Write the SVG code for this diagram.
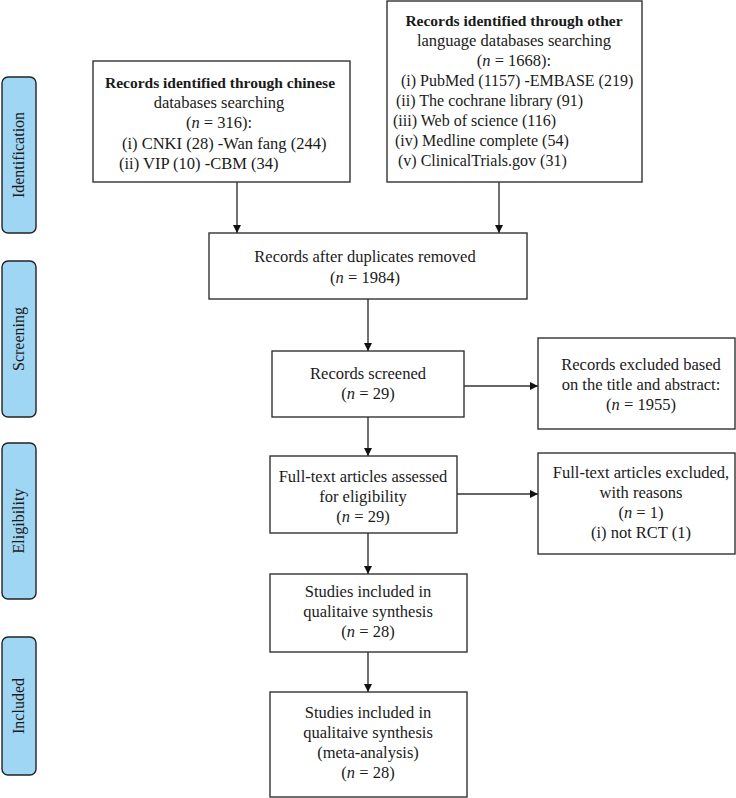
<svg xmlns="http://www.w3.org/2000/svg" width="736" height="798" viewBox="0 0 736 798">
<style>
text{font-family:"Liberation Serif","Times New Roman",serif;font-size:16.5px;fill:#1a1a1a}
.c{text-anchor:middle}
.b{font-weight:bold;font-size:15.5px}
.l{font-size:16px}
.i{font-style:italic}
.s{font-size:16px}
.box{fill:#fff;stroke:#333;stroke-width:1.4}
.side{fill:#9fd6f4;stroke:#222;stroke-width:1.4}
.ln{stroke:#333;stroke-width:1.4;fill:none}
</style>
<defs>
<marker id="ah" viewBox="0 0 10 10" refX="10" refY="5" markerWidth="8" markerHeight="8" markerUnits="userSpaceOnUse" orient="auto">
<path d="M0,0 L10,5 L0,10 z" fill="#111"/>
</marker>
</defs>
<g id="side-identification"><rect class="side" x="2" y="77" width="34" height="156" rx="6"/><text class="c s" transform="translate(24,155) rotate(-90)">Identification</text></g>
<g id="side-screening"><rect class="side" x="2" y="261" width="34" height="156" rx="6"/><text class="c s" transform="translate(24,339) rotate(-90)">Screening</text></g>
<g id="side-eligibility"><rect class="side" x="2" y="443" width="34" height="156" rx="6"/><text class="c s" transform="translate(24,521) rotate(-90)">Eligibility</text></g>
<g id="side-included"><rect class="side" x="2" y="637" width="34" height="138" rx="6"/><text class="c s" transform="translate(24,706) rotate(-90)">Included</text></g>

<g id="connectors">
<line class="ln" x1="237" y1="182" x2="237" y2="233" marker-end="url(#ah)"/>
<line class="ln" x1="499" y1="182" x2="499" y2="233" marker-end="url(#ah)"/>
<line class="ln" x1="368" y1="299" x2="368" y2="351" marker-end="url(#ah)"/>
<line class="ln" x1="464" y1="386" x2="538" y2="386" marker-end="url(#ah)"/>
<line class="ln" x1="368" y1="417" x2="368" y2="456" marker-end="url(#ah)"/>
<line class="ln" x1="457" y1="494" x2="538" y2="494" marker-end="url(#ah)"/>
<line class="ln" x1="368" y1="533" x2="368" y2="574" marker-end="url(#ah)"/>
<line class="ln" x1="368" y1="652" x2="368" y2="692" marker-end="url(#ah)"/>
</g>

<g id="chinese-records">
<rect class="box" x="93" y="61" width="257" height="121"/>
<text class="c b" x="220" y="88">Records identified through chinese</text>
<text class="c" x="219" y="108">databases searching</text>
<text class="c" x="219" y="128">(<tspan class="i">n</tspan> = 316):</text>
<text x="122" y="149">(i) CNKI (28) -Wan fang (244)</text>
<text x="119" y="169">(ii) VIP (10) -CBM (34)</text>
</g>

<g id="other-records">
<rect class="box" x="387" y="1" width="255" height="181"/>
<text class="c b" x="514" y="26">Records identified through other</text>
<text class="c" x="514" y="46">language databases searching</text>
<text class="c" x="514" y="66">(<tspan class="i">n</tspan> = 1668):</text>
<text class="l" x="401" y="86">(i) PubMed (1157) -EMBASE (219)</text>
<text class="l" x="396" y="106">(ii) The cochrane library (91)</text>
<text class="l" x="393" y="126">(iii) Web of science (116)</text>
<text class="l" x="395" y="146">(iv) Medline complete (54)</text>
<text class="l" x="398" y="166">(v) ClinicalTrials.gov (31)</text>
</g>

<g id="duplicates-removed">
<rect class="box" x="209" y="233" width="318" height="66"/>
<text class="c" x="365" y="262">Records after duplicates removed</text>
<text class="c" x="365" y="283">(<tspan class="i">n</tspan> = 1984)</text>
</g>

<g id="records-screened">
<rect class="box" x="272" y="351" width="192" height="66"/>
<text class="c" x="368" y="379">Records screened</text>
<text class="c" x="368" y="399">(<tspan class="i">n</tspan> = 29)</text>
</g>

<g id="records-excluded">
<rect class="box" x="538" y="338" width="197" height="91"/>
<text class="c" x="641" y="370">Records excluded based</text>
<text class="c" x="641" y="390">on the title and abstract:</text>
<text class="c" x="641" y="410">(<tspan class="i">n</tspan> = 1955)</text>
</g>

<g id="fulltext-assessed">
<rect class="box" x="270" y="456" width="187" height="77"/>
<text class="c" x="363" y="482">Full-text articles assessed</text>
<text class="c" x="363" y="502">for eligibility</text>
<text class="c" x="363" y="522">(<tspan class="i">n</tspan> = 29)</text>
</g>

<g id="fulltext-excluded">
<rect class="box" x="538" y="453" width="197" height="101"/>
<text class="c" x="641" y="478">Full-text articles excluded,</text>
<text class="c" x="641" y="498">with reasons</text>
<text class="c" x="641" y="518">(<tspan class="i">n</tspan> = 1)</text>
<text class="c" x="641" y="538">(i) not RCT (1)</text>
</g>

<g id="qualitative-synthesis">
<rect class="box" x="270" y="574" width="197" height="78"/>
<text class="c" x="368" y="597">Studies included in</text>
<text class="c" x="368" y="617">qualitaive synthesis</text>
<text class="c" x="368" y="637">(<tspan class="i">n</tspan> = 28)</text>
</g>

<g id="meta-analysis">
<rect class="box" x="270" y="692" width="197" height="105"/>
<text class="c" x="368" y="718">Studies included in</text>
<text class="c" x="368" y="738">qualitaive synthesis</text>
<text class="c" x="368" y="758">(meta-analysis)</text>
<text class="c" x="368" y="778">(<tspan class="i">n</tspan> = 28)</text>
</g>
</svg>
